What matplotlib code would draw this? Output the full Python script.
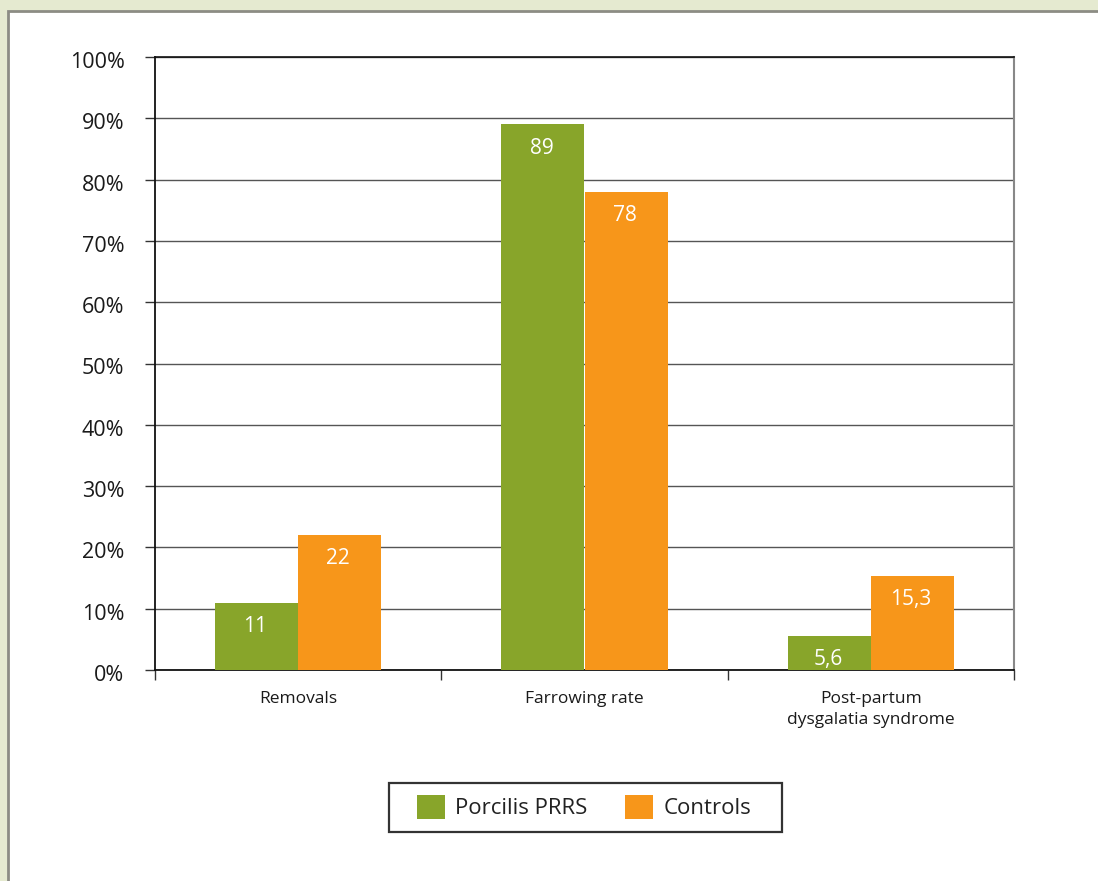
import matplotlib
matplotlib.use("Agg")
import matplotlib.pyplot as plt
from matplotlib.patches import Rectangle, Patch
from matplotlib.transforms import ScaledTranslation
import numpy as np

categories = ["Removals", "Farrowing rate", "Post-partum\ndysgalatia syndrome"]
series_names = ["Porcilis PRRS", "Controls"]
porcilis = [11, 89, 5.6]
controls = [22, 78, 15.3]
ytick_labels = ["0%", "10%", "20%", "30%", "40%", "50%", "60%", "70%", "80%", "90%", "100%"]

green = "#88A52A"
orange = "#F7961A"

plt.rcParams['font.family'] = ['Open Sans', 'DejaVu Sans']

W, H = 1098, 881
fig = plt.figure(figsize=(W / 100, H / 100), dpi=100)
fig.patch.set_facecolor("#E5EAD0")
panel = Rectangle((8 / W, -0.05), 1.2, 1 - 11 / H + 0.05, transform=fig.transFigure,
                  facecolor="white", edgecolor="#8C8C84", linewidth=2, zorder=-5)
fig.patches.append(panel)

ax = fig.add_axes([155 / W, 1 - 670 / H, (1014 - 155) / W, (670 - 57) / H])
ax.set_zorder(2)
ax.set_facecolor("white")

x = np.arange(len(categories))
bw = 0.29
b1 = ax.bar(x - bw / 2, porcilis, bw, color=green, zorder=3, label=series_names[0])
b2 = ax.bar(x + bw / 2, controls, bw, color=orange, zorder=3, label=series_names[1])

def fmt(v):
    return str(int(v)) if float(v).is_integer() else str(v).replace(".", ",")

for bars, vals in ((b1, porcilis), (b2, controls)):
    for r, v in zip(bars, vals):
        ax.annotate(fmt(v), (r.get_x() + r.get_width() / 2, v), xytext=(-1, -17),
                    textcoords="offset points", ha="center", va="center",
                    color="white", fontsize=15, zorder=4)

ax.set_xlim(-0.5, len(categories) - 0.5)
ax.set_ylim(0, 100)
ax.set_yticks(np.arange(0, 101, 10))
ax.set_yticklabels(ytick_labels, fontsize=15.5, color="#1a1a1a")
ax.tick_params(axis="y", length=7, width=1, color="#333333", pad=15)
ax.yaxis.grid(True, color="#555555", linewidth=1, zorder=1)
off = ScaledTranslation(0, -3 / 100, fig.dpi_scale_trans)
for lab in ax.get_yticklabels():
    lab.set_transform(lab.get_transform() + off)

ax.set_xticks(np.arange(-0.5, len(categories), 1.0))
ax.set_xticklabels([])
ax.tick_params(axis="x", which="major", length=7, width=1, color="#333333")
ax.set_xticks(x, minor=True)
ax.set_xticklabels(categories, minor=True, fontsize=12.5, color="#1a1a1a", linespacing=1.45)
ax.tick_params(axis="x", which="minor", length=0, pad=15)

for s in ("left", "bottom"):
    ax.spines[s].set_color("#111111")
    ax.spines[s].set_linewidth(1.3)
ax.spines["top"].set_color("#111111")
ax.spines["top"].set_linewidth(1.2)
ax.spines["right"].set_color("#888888")
ax.spines["right"].set_linewidth(1.5)

handles = [Patch(facecolor=green, edgecolor="none"), Patch(facecolor=orange, edgecolor="none")]
leg = fig.legend(handles, series_names, loc="center", bbox_to_anchor=(584 / W, 1 - 807 / H),
                 ncol=2, fontsize=16, frameon=False, handlelength=1.27,
                 handleheight=1.27, handletextpad=0.45, columnspacing=1.7, borderpad=0.3)
for t in leg.get_texts():
    t.set_color("#222222")
frame = Rectangle((389 / W, 1 - 832 / H), (782 - 389) / W, (832 - 783) / H,
                  transform=fig.transFigure, facecolor="none", edgecolor="#333333",
                  linewidth=1.6, zorder=5)
fig.patches.append(frame)

fig.savefig("out.png", dpi=100, facecolor=fig.get_facecolor())
